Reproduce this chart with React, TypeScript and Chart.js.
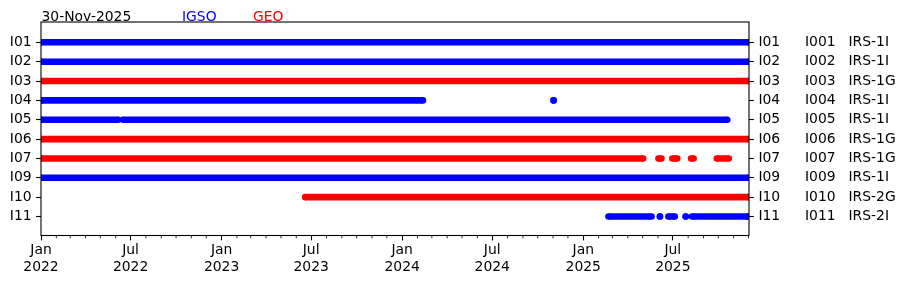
import React, { useEffect, useRef } from "react";
import { Chart, registerables } from "chart.js";
Chart.register(...registerables);

const reportDate = "30-Nov-2025";
const legendLabels = ["IGSO", "GEO"];
const satellites = ["I01", "I02", "I03", "I04", "I05", "I06", "I07", "I09", "I10", "I11"];
const prnCodes = ["I001", "I002", "I003", "I004", "I005", "I006", "I007", "I009", "I010", "I011"];
const blockTypes = ["IRS-1I", "IRS-1I", "IRS-1G", "IRS-1I", "IRS-1I", "IRS-1G", "IRS-1G", "IRS-1I", "IRS-2G", "IRS-2I"];
const orbitTypes = ["IGSO", "IGSO", "GEO", "IGSO", "IGSO", "GEO", "GEO", "IGSO", "GEO", "IGSO"];

// visible periods [first day, last day]
const spansI01 = [["2022-01-01", "2025-11-30"]];
const spansI02 = [["2022-01-01", "2025-11-30"]];
const spansI03 = [["2022-01-01", "2025-11-30"]];
const spansI04 = [["2022-01-01", "2024-02-12"], ["2024-11-02", "2024-11-02"]];
const spansI05 = [["2022-01-01", "2022-06-06"], ["2022-06-16", "2025-10-19"]];
const spansI06 = [["2022-01-01", "2025-11-30"]];
const spansI07 = [
  ["2022-01-01", "2025-05-02"],
  ["2025-06-02", "2025-06-08"],
  ["2025-06-30", "2025-07-10"],
  ["2025-08-07", "2025-08-12"],
  ["2025-09-28", "2025-10-22"],
];
const spansI09 = [["2022-01-01", "2025-11-30"]];
const spansI10 = [["2023-06-19", "2025-11-30"]];
const spansI11 = [
  ["2025-02-21", "2025-05-19"],
  ["2025-06-05", "2025-06-05"],
  ["2025-06-22", "2025-07-05"],
  ["2025-07-27", "2025-07-27"],
  ["2025-08-09", "2025-11-30"],
];
const allSpans = [spansI01, spansI02, spansI03, spansI04, spansI05, spansI06, spansI07, spansI09, spansI10, spansI11];

const xStart = "2022-01-01";
const xEnd = "2025-12-02";
const monthNames = ["Jan", "Feb", "Mar", "Apr", "May", "Jun", "Jul", "Aug", "Sep", "Oct", "Nov", "Dec"];
const orbitColors: Record<string, string> = { IGSO: "#0000ff", GEO: "#ff0000" };

const FONT = "'DejaVu Sans', sans-serif";
const FS = 13.9;

const ms = (s: string) => {
  const [y, m, d] = s.split("-").map(Number);
  return Date.UTC(y, m - 1, d);
};

function monthTicks() {
  const out: { value: number; month: number; year: number }[] = [];
  const a = new Date(ms(xStart));
  let y = a.getUTCFullYear();
  let m = a.getUTCMonth();
  const end = ms(xEnd);
  while (Date.UTC(y, m, 1) <= end) {
    out.push({ value: Date.UTC(y, m, 1), month: m, year: y });
    m++;
    if (m > 11) { m = 0; y++; }
  }
  return out;
}
const isMajor = (month: number) => month === 0 || month === 6;

export default function App() {
  const ref = useRef<HTMLCanvasElement>(null);
  useEffect(() => {
    if (!ref.current) return;
    const months = monthTicks();
    const datasets = satellites.map((s, i) => {
      const data: { x: number; y: number | null }[] = [];
      allSpans[i].forEach(([a, b]) => {
        data.push({ x: ms(a), y: i + 1 });
        data.push({ x: ms(b), y: i + 1 });
        data.push({ x: ms(b) + 1, y: null });
      });
      const c = orbitColors[orbitTypes[i]];
      return {
        label: s,
        data,
        borderColor: c,
        backgroundColor: c,
        borderWidth: 6.6,
        pointRadius: 3.3,
        pointBorderWidth: 0,
        pointHoverRadius: 3.3,
        pointBackgroundColor: c,
        spanGaps: false,
        showLine: true,
        yAxisID: "y",
        xAxisID: "x",
      };
    });

    const decor = {
      id: "decor",
      afterDraw(chart: any) {
        const { ctx, chartArea: a, scales } = chart;
        ctx.save();
        ctx.strokeStyle = "#000";
        ctx.lineWidth = 1.1;
        ctx.strokeRect(a.left, a.top, a.right - a.left, a.bottom - a.top);
        ctx.lineWidth = 0.83;
        months.forEach((t) => {
          if (isMajor(t.month)) return;
          const x = scales.x.getPixelForValue(t.value);
          if (x < a.left - 0.5 || x > a.right + 0.5) return;
          ctx.beginPath();
          ctx.moveTo(x, a.bottom);
          ctx.lineTo(x, a.bottom + 2.8);
          ctx.stroke();
        });
        ctx.font = `${FS}px ${FONT}`;
        ctx.textAlign = "left";
        ctx.textBaseline = "alphabetic";
        ctx.fillStyle = "#000";
        ctx.fillText(reportDate, a.left + 0.5, 20.7);
        ctx.fillStyle = orbitColors[legendLabels[0]];
        ctx.fillText(legendLabels[0], a.left + 141, 20.7);
        ctx.fillStyle = orbitColors[legendLabels[1]];
        ctx.fillText(legendLabels[1], a.left + 212, 20.7);
        ctx.fillStyle = "#000";
        ctx.textBaseline = "middle";
        satellites.forEach((_, i) => {
          const y = scales.y.getPixelForValue(i + 1);
          ctx.fillText(prnCodes[i], a.right + 56, y);
          ctx.fillText(blockTypes[i], a.right + 99.5, y);
        });
        ctx.restore();
      },
    };

    const yCommon = (position: "left" | "right", width: number) => ({
      type: "linear" as const,
      position,
      min: -0.05,
      max: 10.98,
      reverse: true,
      afterBuildTicks: (scale: any) => {
        scale.ticks = satellites.map((_, i) => ({ value: i + 1 }));
      },
      afterFit: (scale: any) => {
        scale.width = width;
      },
      ticks: {
        callback: (v: any) => satellites[Number(v) - 1] ?? "",
        color: "#000",
        font: { family: FONT, size: FS },
        padding: 4.5,
        autoSkip: false,
      },
      grid: {
        drawOnChartArea: false,
        tickLength: 4.9,
        tickColor: "#000",
        tickWidth: 1.1,
      },
      border: { display: false },
    });

    const chart = new Chart(ref.current, {
      type: "line",
      data: { datasets },
      plugins: [decor],
      options: {
        responsive: false,
        animation: false,
        devicePixelRatio: 1,
        layout: { padding: { top: 22, left: 0, right: 0, bottom: 0 } },
        plugins: { legend: { display: false }, tooltip: { enabled: false } },
        events: [],
        scales: {
          x: {
            type: "linear",
            position: "bottom",
            min: ms(xStart),
            max: ms(xEnd),
            afterBuildTicks: (scale: any) => {
              scale.ticks = months.map((t) => ({ value: t.value }));
            },
            afterFit: (scale: any) => {
              scale.height = 49.5;
            },
            ticks: {
              autoSkip: false,
              maxRotation: 0,
              minRotation: 0,
              color: "#000",
              padding: 2,
              font: { family: FONT, size: FS, lineHeight: 1.2 },
              callback: (v: any) => {
                const d = new Date(Number(v));
                const m = d.getUTCMonth();
                return isMajor(m) ? [monthNames[m], String(d.getUTCFullYear())] : "";
              },
            },
            grid: {
              drawOnChartArea: false,
              tickLength: 4.9,
              tickWidth: 1.1,
              tickColor: (ctx: any) => {
                const v = ctx.tick ? ctx.tick.value : 0;
                return isMajor(new Date(v).getUTCMonth()) ? "#000" : "rgba(0,0,0,0)";
              },
            },
            border: { display: false },
          },
          y: yCommon("left", 41),
          yR: yCommon("right", 156),
        },
      } as any,
    });
    return () => chart.destroy();
  }, []);

  return (
    <canvas
      ref={ref}
      width={905}
      height={285}
      style={{ position: "absolute", left: 0, top: 0, width: 905, height: 285 }}
    />
  );
}
